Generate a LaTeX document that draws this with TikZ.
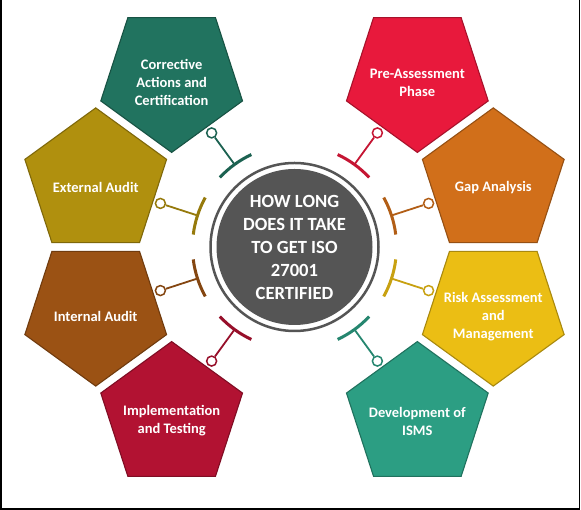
\documentclass[tikz,border=0pt]{standalone}
\usepackage{fontspec}
\setmainfont{Carlito}
\usetikzlibrary{shapes.geometric}
\definecolor{cgreen}{RGB}{33,115,95}
\definecolor{cred}{RGB}{232,25,60}
\definecolor{colive}{RGB}{176,144,14}
\definecolor{corange}{RGB}{209,111,26}
\definecolor{cbrown}{RGB}{155,82,20}
\definecolor{cyellow}{RGB}{235,190,20}
\definecolor{ccrimson}{RGB}{178,18,50}
\definecolor{cteal}{RGB}{44,158,131}
\definecolor{cgray}{RGB}{85,85,85}
\tikzset{
  pent/.style={regular polygon, regular polygon sides=5, minimum size=149pt,
    inner sep=0pt, outer sep=0pt, fill=#1, draw=#1!72!black, line width=1.1pt},
  lbl/.style={text=white, font=\bfseries\fontsize{14.5}{18}\selectfont, align=center, inner sep=0pt},
  arcline/.style={line width=3pt, draw=#1!85!black},
  stem/.style={line width=1.8pt, draw=#1!85!black},
  knob/.style={circle, minimum size=10pt, inner sep=0pt, fill=white, draw=#1!85!black, line width=1.5pt},
}
\begin{document}
\begin{tikzpicture}[x=1pt,y=1pt]
\useasboundingbox (0,0) rectangle (581,510);
\fill[white] (0,0) rectangle (581,510);
\draw[black, line width=1.5pt] (0.75,510) -- (0.75,1) -- (579.5,1) -- (579.5,510);
% centre
\node[circle, fill=cgray, minimum size=156pt, inner sep=0pt] (c) at (294.5,263) {};
\draw[cgray, line width=2.5pt] (c.center) circle[radius=84pt];
\node[text=white, font=\bfseries\fontsize{18.6}{23}\selectfont, align=center] (ctext) at (c.center)
  {HOW LONG\\DOES IT TAKE\\TO GET ISO\\27001\\CERTIFIED};
% pentagons and connectors
\foreach \a/\col/\rot/\txt [count=\i] in {
   18/corange/0/{Gap Analysis},
   54/cred/180/{Pre-Assessment\\Phase},
  126/cgreen/180/{Corrective\\Actions and\\Certification},
  162/colive/0/{External Audit},
  198/cbrown/180/{Internal Audit},
  234/ccrimson/0/{Implementation\\and Testing},
  306/cteal/0/{Development of\\ISMS},
  342/cyellow/180/{Risk Assessment\\and\\Management}}{
  \node[pent=\col, shape border rotate=\rot] (p\i) at ([shift={(\a:209pt)}]c.center) {};
  \node[lbl] (t\i) at ([yshift=-5pt]p\i.center) {\txt};
  \draw[arcline=\col] ([shift={({\a-11}:102pt)}]c.center) arc[start angle={\a-11}, end angle={\a+11}, radius=102pt];
  \coordinate (m\i) at ([shift={(\a:102pt)}]c.center);
  \node[knob=\col] (k\i) at ([shift={(\a:141pt)}]c.center) {};
  \draw[stem=\col] (m\i) -- (k\i);
}
\end{tikzpicture}
\end{document}
